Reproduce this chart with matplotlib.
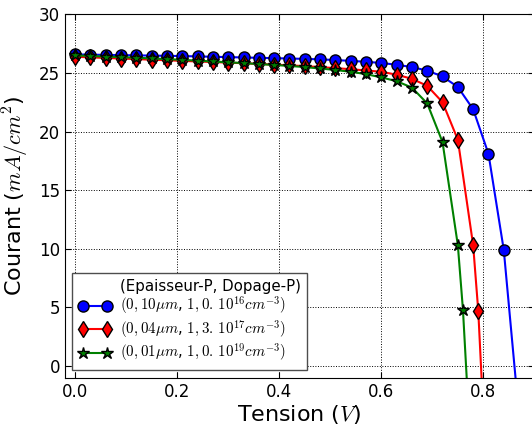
import numpy as np
import matplotlib
matplotlib.use('Agg')
import matplotlib.pyplot as plt

plt.rcParams['mathtext.fontset'] = 'cm'
plt.rcParams['font.family'] = 'DejaVu Sans'

# tension (V) for each series
v_common = [0.00, 0.03, 0.06, 0.09, 0.12, 0.15, 0.18, 0.21, 0.24, 0.27,
            0.30, 0.33, 0.36, 0.39, 0.42, 0.45, 0.48, 0.51, 0.54, 0.57,
            0.60, 0.63, 0.66, 0.69, 0.72]
v_blue = v_common + [0.75, 0.78, 0.81, 0.84, 0.87]
v_red = v_common + [0.75, 0.78, 0.79, 0.80]
v_green = v_common + [0.75, 0.76, 0.77]

# courant (mA/cm2)
i_blue = [26.58, 26.56, 26.54, 26.52, 26.50, 26.48, 26.46, 26.44, 26.41, 26.38,
          26.35, 26.32, 26.29, 26.26, 26.23, 26.20, 26.16, 26.10, 26.03, 25.95,
          25.85, 25.70, 25.50, 25.20, 24.70, 23.80, 21.90, 18.10, 9.90, -4.3]
i_red = [26.38, 26.33, 26.28, 26.23, 26.18, 26.13, 26.08, 26.03, 25.98, 25.93,
         25.88, 25.83, 25.77, 25.71, 25.65, 25.58, 25.50, 25.41, 25.32, 25.21,
         25.10, 24.85, 24.50, 23.90, 22.50, 19.30, 10.30, 4.70, -4.1]
i_green = [26.50, 26.45, 26.40, 26.35, 26.30, 26.24, 26.18, 26.12, 26.05, 25.98,
           25.91, 25.84, 25.76, 25.68, 25.60, 25.50, 25.38, 25.25, 25.10, 24.90,
           24.62, 24.30, 23.75, 22.40, 19.10, 10.30, 4.80, -3.1]

labels = [r'$(0,10\mu m$, $1,0.\,10^{16}cm^{-3})$',
          r'$(0,04\mu m$, $1,3.\,10^{17}cm^{-3})$',
          r'$(0,01\mu m$, $1,0.\,10^{19}cm^{-3})$']

fig = plt.figure(figsize=(5.32, 4.28), dpi=100)
ax = fig.add_axes([0.122, 0.1175, 0.8825, 0.849])

ax.plot([], [], ' ', label='(Epaisseur-P, Dopage-P)')
ax.plot(v_blue, i_blue, 'b-', marker='o', ms=8, mec='k', mew=1, lw=1.5, label=labels[0])
ax.plot(v_red, i_red, 'r-', marker='d', ms=8, mec='k', mew=1, lw=1.5, label=labels[1])
ax.plot(v_green, i_green, 'g-', marker='*', ms=9, mec='k', mew=1, lw=1.5, label=labels[2])

ax.set_xlim(-0.02, 0.9)
ax.set_ylim(-1, 30)
ax.set_xticks([0.0, 0.2, 0.4, 0.6, 0.8])
ax.set_yticks([0, 5, 10, 15, 20, 25, 30])
ax.grid(True, color='k', linestyle=':', linewidth=0.7)
ax.tick_params(direction='in', top=True, right=True, labelsize=12, length=4)
ax.set_xlabel(r'Tension ($V$)', fontsize=16, labelpad=2)
ax.set_ylabel(r'Courant ($mA/cm^2$)', fontsize=16, labelpad=6)

leg = ax.legend(loc='lower left', numpoints=2, fontsize=10.8, fancybox=False,
                framealpha=1, borderaxespad=0.5, handlelength=2.2,
                labelspacing=0.1, borderpad=0.4, handletextpad=0.6)
leg.get_frame().set_edgecolor('0.3')

fig.savefig('out.png', dpi=100)
